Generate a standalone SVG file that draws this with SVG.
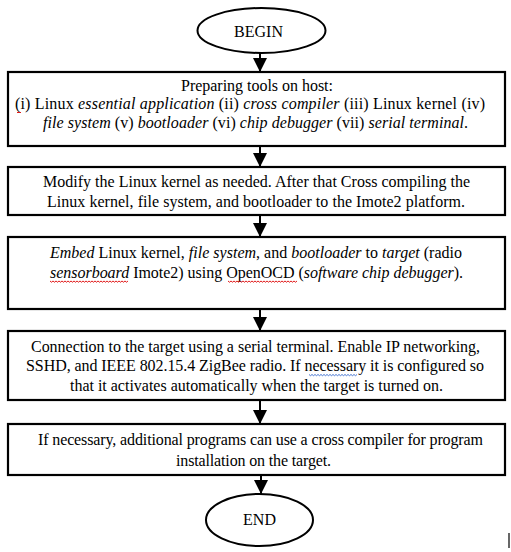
<svg xmlns="http://www.w3.org/2000/svg" width="511" height="552" viewBox="0 0 511 552">
<defs>
<style>
.box{fill:#fff;stroke:#000;stroke-width:2.2}
.term{fill:#fff;stroke:#000;stroke-width:2}
.t{font-family:"Liberation Serif","Times New Roman",serif;font-size:16px;fill:#000}
.i{font-style:italic}
.edge{stroke:#000;stroke-width:2;fill:none}
.sq{fill:none;stroke-width:0.9}
</style>
<marker id="ah" markerUnits="userSpaceOnUse" markerWidth="14" markerHeight="14" viewBox="0 0 14 14" refX="14" refY="7" orient="auto">
<path d="M0,0 L14,7 L0,14 Z" fill="#000"/>
</marker>
</defs>
<rect width="511" height="552" fill="#fff"/>

<g id="connectors">
<line class="edge" x1="260" y1="53" x2="260" y2="72" marker-end="url(#ah)"/>
<line class="edge" x1="260" y1="146" x2="260" y2="167" marker-end="url(#ah)"/>
<line class="edge" x1="260" y1="215" x2="260" y2="237" marker-end="url(#ah)"/>
<line class="edge" x1="260" y1="309" x2="260" y2="331" marker-end="url(#ah)"/>
<line class="edge" x1="260" y1="400" x2="260" y2="424" marker-end="url(#ah)"/>
<line class="edge" x1="261" y1="475" x2="261" y2="494" marker-end="url(#ah)"/>
</g>

<g id="begin">
<ellipse class="term" cx="261.5" cy="30.5" rx="64" ry="22.5"/>
<text class="t" x="258.5" y="37" text-anchor="middle">BEGIN</text>
</g>

<g id="step1">
<rect class="box" x="8" y="72" width="497" height="74"/>
<text class="t" x="181" y="90.5" textLength="152" lengthAdjust="spacing">Preparing tools on host:</text>
<text class="t" x="15" y="109" textLength="470" lengthAdjust="spacing">(i) Linux <tspan class="i">essential application</tspan> (ii) <tspan class="i">cross compiler</tspan> (iii) Linux kernel (iv)</text>
<text class="t" x="43" y="127.5" textLength="425" lengthAdjust="spacing"><tspan class="i">file system</tspan> (v) <tspan class="i">bootloader</tspan> (vi) <tspan class="i">chip debugger</tspan> (vii) <tspan class="i">serial terminal</tspan>.</text>
<path class="sq" stroke="#d00" d="M17,112 l1,1 l1,-1 l1,1 l1,-1"/>
</g>

<g id="step2">
<rect class="box" x="8" y="167" width="497" height="48"/>
<text class="t" x="43" y="187" textLength="427" lengthAdjust="spacing">Modify the Linux kernel as needed. After that Cross compiling the</text>
<text class="t" x="47" y="207" textLength="418" lengthAdjust="spacing">Linux kernel, file system, and bootloader to the Imote2 platform.</text>
</g>

<g id="step3">
<rect class="box" x="8" y="237" width="497" height="72"/>
<text class="t" x="50" y="257.5" textLength="412" lengthAdjust="spacing"><tspan class="i">Embed</tspan> Linux kernel, <tspan class="i">file system</tspan>, and <tspan class="i">bootloader</tspan> to <tspan class="i">target</tspan> (radio</text>
<text class="t" x="50" y="277.5" textLength="413" lengthAdjust="spacing"><tspan class="i">sensorboard</tspan> Imote2) using OpenOCD (<tspan class="i">software chip debugger</tspan>).</text>
<path class="sq" stroke="#d00" d="M50,281 l1.5,1.2 l1.5,-1.2 l1.5,1.2 l1.5,-1.2 l1.5,1.2 l1.5,-1.2 l1.5,1.2 l1.5,-1.2 l1.5,1.2 l1.5,-1.2 l1.5,1.2 l1.5,-1.2 l1.5,1.2 l1.5,-1.2 l1.5,1.2 l1.5,-1.2 l1.5,1.2 l1.5,-1.2 l1.5,1.2 l1.5,-1.2 l1.5,1.2 l1.5,-1.2 l1.5,1.2 l1.5,-1.2 l1.5,1.2 l1.5,-1.2 l1.5,1.2 l1.5,-1.2 l1.5,1.2 l1.5,-1.2 l1.5,1.2 l1.5,-1.2 l1.5,1.2 l1.5,-1.2 l1.5,1.2 l1.5,-1.2 l1.5,1.2 l1.5,-1.2 l1.5,1.2 l1.5,-1.2 l1.5,1.2 l1.5,-1.2 l1.5,1.2 l1.5,-1.2 l1.5,1.2 l1.5,-1.2 l1.5,1.2 l1.5,-1.2 l1.5,1.2 l1.5,-1.2 l1.5,1.2 l1.5,-1.2"/>
<path class="sq" stroke="#d00" d="M228,281 l1.5,1.2 l1.5,-1.2 l1.5,1.2 l1.5,-1.2 l1.5,1.2 l1.5,-1.2 l1.5,1.2 l1.5,-1.2 l1.5,1.2 l1.5,-1.2 l1.5,1.2 l1.5,-1.2 l1.5,1.2 l1.5,-1.2 l1.5,1.2 l1.5,-1.2 l1.5,1.2 l1.5,-1.2 l1.5,1.2 l1.5,-1.2 l1.5,1.2 l1.5,-1.2 l1.5,1.2 l1.5,-1.2 l1.5,1.2 l1.5,-1.2 l1.5,1.2 l1.5,-1.2 l1.5,1.2 l1.5,-1.2 l1.5,1.2 l1.5,-1.2 l1.5,1.2 l1.5,-1.2 l1.5,1.2 l1.5,-1.2 l1.5,1.2 l1.5,-1.2 l1.5,1.2 l1.5,-1.2 l1.5,1.2 l1.5,-1.2 l1.5,1.2 l1.5,-1.2 l1.5,1.2 l1.5,-1.2"/>
</g>

<g id="step4">
<rect class="box" x="8" y="331" width="497" height="69"/>
<text class="t" x="31" y="351.5" textLength="449" lengthAdjust="spacing">Connection to the target using a serial terminal. Enable IP networking,</text>
<text class="t" x="26" y="371" textLength="458" lengthAdjust="spacing">SSHD, and IEEE 802.15.4 ZigBee radio. If necessary it is configured so</text>
<text class="t" x="70" y="391" textLength="373" lengthAdjust="spacing">that it activates automatically when the target is turned on.</text>
<path class="sq" stroke="#36c" d="M309,374.5 l1.5,1.2 l1.5,-1.2 l1.5,1.2 l1.5,-1.2 l1.5,1.2 l1.5,-1.2 l1.5,1.2 l1.5,-1.2 l1.5,1.2 l1.5,-1.2 l1.5,1.2 l1.5,-1.2 l1.5,1.2 l1.5,-1.2 l1.5,1.2 l1.5,-1.2 l1.5,1.2 l1.5,-1.2 l1.5,1.2 l1.5,-1.2 l1.5,1.2 l1.5,-1.2 l1.5,1.2 l1.5,-1.2 l1.5,1.2 l1.5,-1.2 l1.5,1.2 l1.5,-1.2 l1.5,1.2 l1.5,-1.2 l1.5,1.2 l1.5,-1.2"/>
</g>

<g id="step5">
<rect class="box" x="8" y="424" width="497" height="51"/>
<text class="t" x="38" y="445" textLength="445" lengthAdjust="spacing">If necessary, additional programs can use a cross compiler for program</text>
<text class="t" x="176" y="466" textLength="155" lengthAdjust="spacing">installation on the target.</text>
</g>

<g id="end">
<ellipse class="term" cx="259.5" cy="520" rx="53.5" ry="26"/>
<text class="t" x="259.5" y="525" text-anchor="middle">END</text>
</g>

<line x1="509" y1="533" x2="509" y2="548" stroke="#000" stroke-width="1.2"/>
</svg>
